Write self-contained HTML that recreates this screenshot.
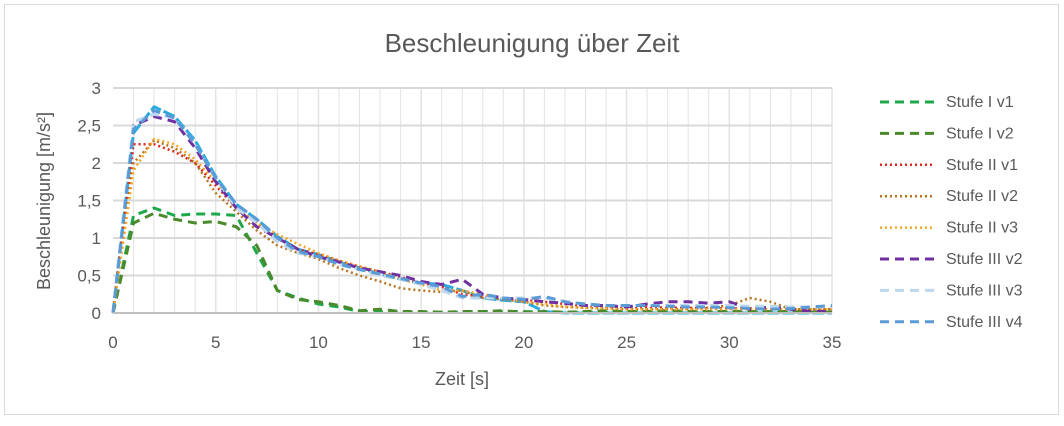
<!DOCTYPE html>
<html><head><meta charset="utf-8"><style>
body{margin:0;background:#fff;font-family:"Liberation Sans",sans-serif}
svg text{font-family:"Liberation Sans",sans-serif;fill:#595959}
</style></head><body>
<svg width="1064" height="421">
<rect x="4.5" y="4.5" width="1054" height="410" fill="#fff" stroke="#d9d9d9"/>
<text x="532" y="52" font-size="26" text-anchor="middle">Beschleunigung über Zeit</text>
<g id="grid"></g>
<g id="series"></g>
<g id="axes"></g>
<text x="462" y="385" font-size="18" text-anchor="middle">Zeit [s]</text>
<text transform="translate(50,201) rotate(-90)" font-size="18" text-anchor="middle">Beschleunigung [m/s²]</text>
<g id="legend"></g>
</svg>
<script>
const xs=[0,1,2,3,4,5,6,7,8,9,10,11,12,13,14,15,16,17,18,19,20,21,22,23,24,25,26,27,28,29,30,31,32,33,34,35];
const sI1=[0,1.3,1.4,1.3,1.32,1.32,1.3,0.8,0.3,0.2,0.12,0.08,0.02,0.02,0.01,0.01,0.01,0.01,0.02,0.02,0.02,0.01,0.01,0.01,0.01,0.02,0.01,0.01,0.01,0.01,0.01,0.01,0.01,0.01,0.01,0.01];
const sI2=[0,1.2,1.33,1.25,1.2,1.22,1.15,0.9,0.3,0.18,0.15,0.1,0.03,0.05,0.02,0.02,0.01,0.02,0.02,0.03,0.01,0.02,0.01,0.02,0.03,0.02,0.02,0.03,0.02,0.02,0.02,0.02,0.02,0.02,0.01,0.01];
const sII1=[0,2.25,2.25,2.15,2.0,1.7,1.4,1.2,1.0,0.85,0.78,0.7,0.62,0.55,0.48,0.4,0.35,0.25,0.22,0.2,0.17,0.15,0.12,0.1,0.09,0.08,0.08,0.07,0.07,0.06,0.06,0.06,0.05,0.05,0.05,0.05];
const sII2=[0,2.0,2.3,2.2,2.0,1.6,1.35,1.1,0.9,0.8,0.72,0.6,0.5,0.42,0.33,0.3,0.28,0.3,0.2,0.18,0.15,0.1,0.08,0.07,0.06,0.05,0.05,0.05,0.05,0.07,0.1,0.2,0.15,0.05,0.05,0.05];
const sII3=[0,1.9,2.32,2.25,2.05,1.75,1.4,1.2,1.05,0.92,0.8,0.7,0.62,0.55,0.45,0.38,0.3,0.3,0.25,0.2,0.15,0.12,0.08,0.07,0.06,0.05,0.05,0.05,0.05,0.05,0.05,0.05,0.05,0.05,0.05,0.05];
const sIII2=[0,2.5,2.62,2.55,2.2,1.75,1.4,1.15,1.0,0.85,0.75,0.68,0.6,0.55,0.5,0.42,0.38,0.45,0.25,0.2,0.18,0.15,0.13,0.1,0.1,0.08,0.12,0.15,0.15,0.13,0.15,0.05,0.08,0.05,0.02,0.02];
const sIII3=[0,2.55,2.65,2.6,2.25,1.8,1.4,1.2,0.95,0.8,0.75,0.65,0.58,0.5,0.45,0.38,0.3,0.2,0.2,0.2,0.2,0.2,0.15,0.12,0.1,0.1,0.1,0.1,0.1,0.1,0.1,0.09,0.09,0.08,0.08,0.08];
const sIII4=[0,2.45,2.7,2.6,2.25,1.8,1.45,1.25,1.0,0.82,0.75,0.65,0.58,0.52,0.46,0.4,0.35,0.22,0.25,0.2,0.18,0.22,0.15,0.12,0.1,0.1,0.1,0.09,0.08,0.08,0.07,0.06,0.05,0.06,0.08,0.1];
const sIII1=[0,2.4,2.75,2.62,2.3,1.82,1.45,1.25,1.02,0.85,0.78,0.68,0.6,0.52,0.45,0.4,0.38,0.3,0.2,0.17,0.15,0.02,0,0,0,0,0,0,0,0,0,0,0,0,0,0];
const xTicks=[0,5,10,15,20,25,30,35];
const yTicks=[0,0.5,1,1.5,2,2.5,3];
const yLabels=["0","0,5","1","1,5","2","2,5","3"];
const legendNames=["Stufe I v1","Stufe I v2","Stufe II v1","Stufe II v2","Stufe II v3","Stufe III v2","Stufe III v3","Stufe III v4"];
const X0=113,X1=832,Y0=313,Y1=88;
const sx=v=>X0+(X1-X0)*v/35, sy=v=>Y0-(Y0-Y1)*v/3;
const NS="http://www.w3.org/2000/svg";
function mk(t,a,p){const e=document.createElementNS(NS,t);for(const k in a)e.setAttribute(k,a[k]);p.appendChild(e);return e;}
const grid=document.getElementById('grid');
for(let i=1;i<=35;i++){const l=mk('line',{x1:sx(i),x2:sx(i),y1:Y1,y2:Y0,stroke:'#e3e3e3','stroke-width':i%5==0?1.5:1},grid);

}
yTicks.forEach((v,i)=>{if(v===0)return;const l=mk('line',{x1:X0,x2:X1,y1:sy(v),y2:sy(v),stroke:'#d9d9d9','stroke-width':2},grid);

});
const axes=document.getElementById('axes');
const ax=mk('line',{x1:X0,x2:X1,y1:Y0,y2:Y0,stroke:'#bfbfbf','stroke-width':2},axes);


xTicks.forEach(v=>{const t=mk('text',{x:sx(v),y:Y0+35,'font-size':17,'text-anchor':'middle'},axes);t.textContent=v;

});
yTicks.forEach((v,i)=>{const t=mk('text',{x:X0-12,y:sy(v)+6,'font-size':17,'text-anchor':'end'},axes);t.textContent=yLabels[i];

});
const styles=[
{d:sI1,c:'#1fa84a',da:'9 6',w:3},
{d:sI2,c:'#4a8a2c',da:'9 6',w:3},
{d:sII1,c:'#e0251b',da:'2 3',w:2.5},
{d:sII2,c:'#b7741e',da:'2 3',w:2.5},
{d:sII3,c:'#f5a623',da:'2 3',w:2.5},
{d:sIII2,c:'#7030a0',da:'9 6',w:3},
{d:sIII3,c:'#bdd7ee',da:'9 6',w:3},
{d:sIII4,c:'#5b9bd5',da:'9 6',w:3}];
const sg=document.getElementById('series');
const cyan=mk('polyline',{points:xs.map((x,i)=>sx(x)+','+sy(sIII1[i])).join(' '),fill:'none',stroke:'#29abe2','stroke-width':3,'stroke-dasharray':'12 3','stroke-linejoin':'round'},sg);


styles.forEach((s,k)=>{const p=mk('polyline',{points:xs.map((x,i)=>sx(x)+','+sy(s.d[i])).join(' '),fill:'none',stroke:s.c,'stroke-width':s.w,'stroke-dasharray':s.da,'stroke-linejoin':'round'},sg);

});
const lg=document.getElementById('legend');
styles.forEach((s,k)=>{const y=102+k*31.4;
const g=mk('g',{},lg);


mk('line',{x1:880,x2:934,y1:y,y2:y,stroke:s.c,'stroke-width':s.w,'stroke-dasharray':s.da},g);
const t=mk('text',{x:946,y:y+5,'font-size':16},g);t.textContent=legendNames[k];});
</script>
</body></html>
